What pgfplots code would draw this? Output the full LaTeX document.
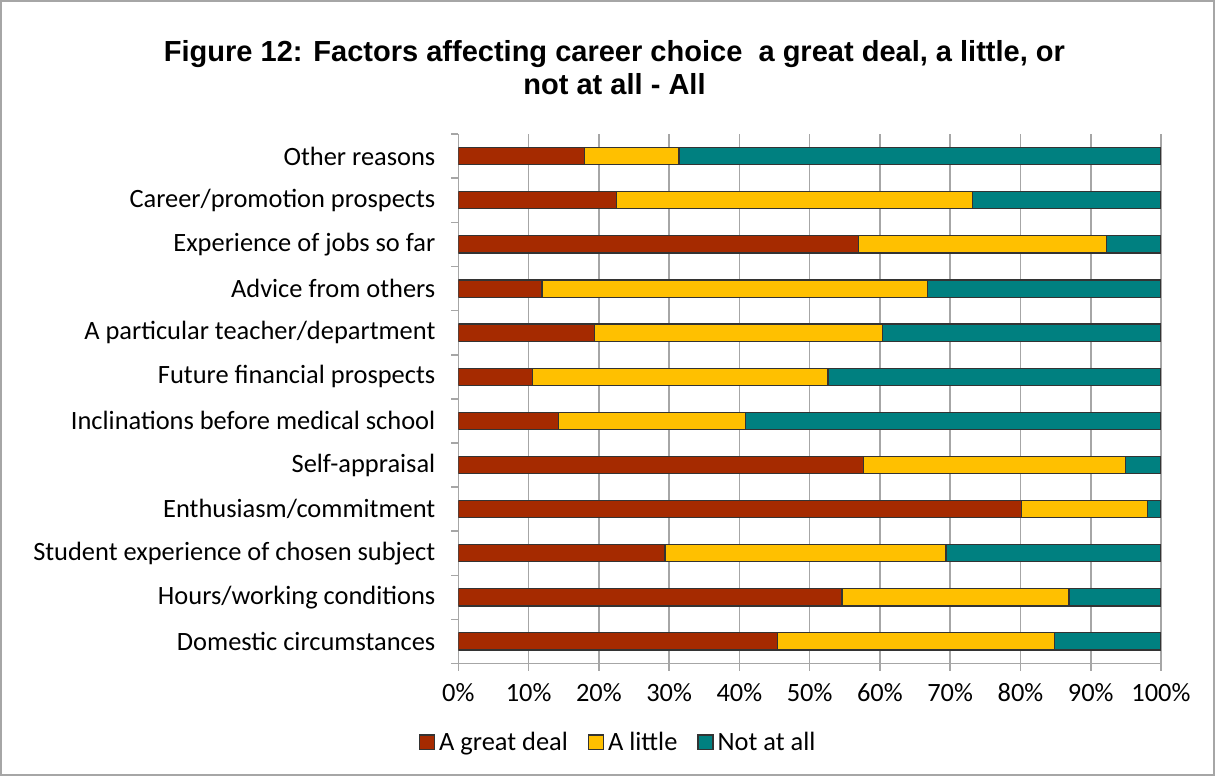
\documentclass[border=0pt]{standalone}
\usepackage{fontspec}
\setmainfont{Carlito}
\newfontfamily\titlefont{Liberation Sans}
\usepackage{pgfplots}
\pgfplotsset{compat=1.18}
\usetikzlibrary{calc}
\definecolor{deal}{HTML}{A52A00}
\definecolor{little}{HTML}{FFC000}
\definecolor{notall}{HTML}{008080}
\definecolor{gridgray}{HTML}{A6A6A6}

\begin{document}
\begin{tikzpicture}
\begin{axis}[
  name=ax,
  xbar stacked,
  bar width=8.6bp,
  scale only axis,
  width=351bp, height=264.5bp,
  xmin=0, xmax=100,
  ymin=-0.5, ymax=11.5,
  axis lines=left,
  axis line style={-, draw=gridgray},
  xtick={0,10,...,100},
  xticklabel={\pgfmathprintnumber{\tick}\%},
  xmajorgrids,
  grid style={gridgray, line width=0.8bp},
  ytick={-0.5,0.5,...,11.5},
  yticklabels={},
  extra y ticks={0,...,11},
  extra y tick labels={Domestic circumstances,Hours/working conditions,Student experience of chosen subject,Enthusiasm/commitment,Self-appraisal,Inclinations before medical school,Future financial prospects,A particular teacher/department,Advice from others,Experience of jobs so far,Career/promotion prospects,Other reasons},
  extra y tick style={major tick length=0pt},
  tick align=outside,
  major tick length=3.5bp,
  tick style={gridgray, line width=0.8bp},
  ticklabel style={font=\fontsize{13.2bp}{15bp}\selectfont},
  /pgf/number format/assume math mode=true,
  yticklabel style={xshift=-8bp},
  xticklabel style={yshift=-3bp},
  legend style={at={(0.229,-0.149)}, anchor=center, draw=none,
    font=\fontsize{13.2bp}{15bp}\selectfont,
    /tikz/every even column/.append style={column sep=8bp}},
  legend columns=3,
  legend image code/.code={\draw[#1] (0bp,-3.7bp) rectangle (7.5bp,3.7bp);},
]
\addplot[fill=deal, draw=black!80, line width=0.6bp] coordinates {
  (45.4,0) (54.6,1) (29.4,2) (80.2,3) (57.7,4) (14.2,5)
  (10.6,6) (19.4,7) (11.9,8) (56.9,9) (22.5,10) (17.9,11)};
\addplot[fill=little, draw=black!80, line width=0.6bp] coordinates {
  (39.4,0) (32.3,1) (40.0,2) (17.9,3) (37.3,4) (26.7,5)
  (42.0,6) (41.0,7) (54.9,8) (35.3,9) (50.7,10) (13.5,11)};
\addplot[fill=notall, draw=black!80, line width=0.6bp] coordinates {
  (15.2,0) (13.1,1) (30.6,2) (1.9,3) (5.0,4) (59.1,5)
  (47.4,6) (39.6,7) (33.2,8) (7.8,9) (26.8,10) (68.6,11)};
\legend{A great deal, A little, Not at all}
\end{axis}
\node[align=center, font=\titlefont\bfseries\fontsize{14.5bp}{16.5bp}\selectfont]
  at ($(ax.south west)+(78bp,297.5bp)$)
  {Figure 12: Factors affecting career choice\ \ a great deal, a little, or\\not at all - All};
\draw[gray!70, line width=1bp] ($(ax.south west)+(-228.5bp,-55.5bp)$) rectangle ($(ax.south west)+(377.5bp,331bp)$);
\end{tikzpicture}
\end{document}
